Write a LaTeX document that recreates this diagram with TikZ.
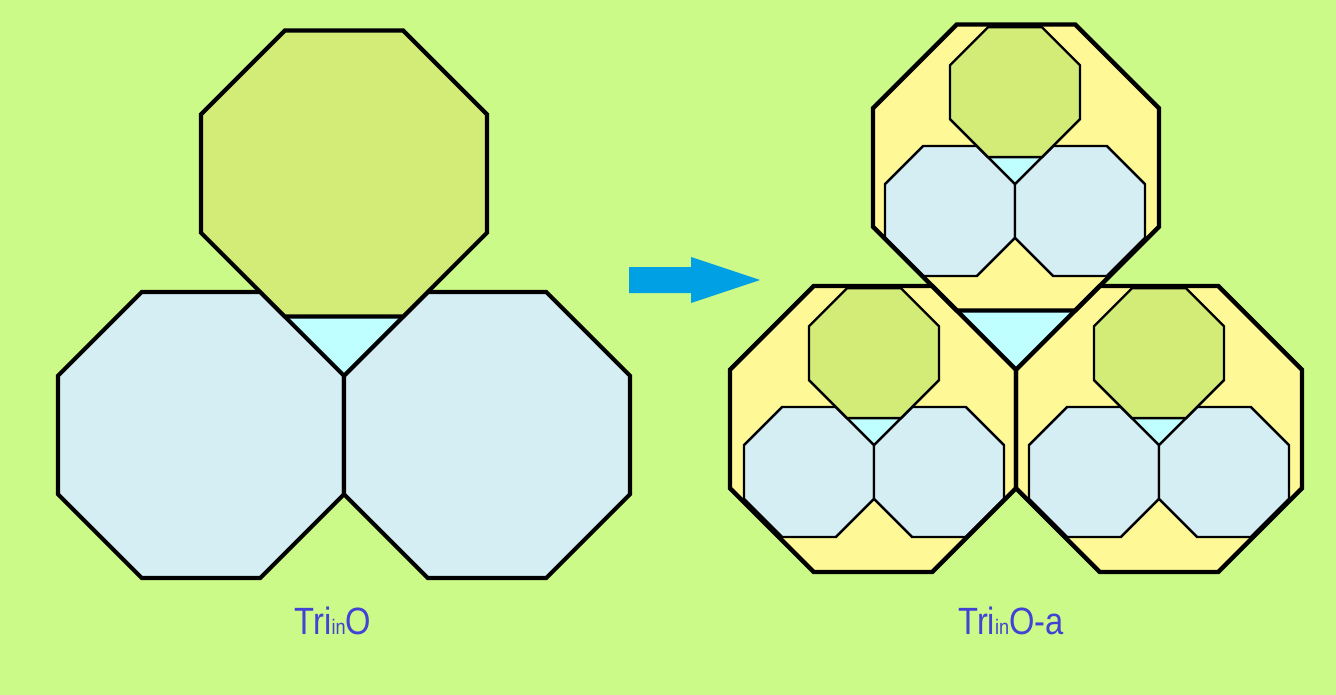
\documentclass[tikz,border=0pt]{standalone}
\usepackage{fontspec}
\newfontfamily\narrowsans[FakeStretch=0.86]{Liberation Sans}
\definecolor{bgc}{HTML}{CCFA88}
\definecolor{greenoct}{HTML}{D3EC78}
\definecolor{blueoct}{HTML}{D4EEF4}
\definecolor{cyantri}{HTML}{C0FFFF}
\definecolor{yellowoct}{HTML}{FFF896}
\definecolor{arrowc}{HTML}{00A0E4}
\definecolor{labelc}{HTML}{4242D4}
\tikzset{
  lbl/.style={text=labelc, font=\narrowsans\fontsize{38}{42}\selectfont, inner sep=0pt, anchor=base},
  octline/.style={draw=black, line join=miter},
}
\newcommand\octpath[3]{({#1},{#2}) +(22.5:{1.082392*#3}) -- +(67.5:{1.082392*#3}) -- +(112.5:{1.082392*#3}) -- +(157.5:{1.082392*#3}) -- +(202.5:{1.082392*#3}) -- +(247.5:{1.082392*#3}) -- +(292.5:{1.082392*#3}) -- +(337.5:{1.082392*#3}) -- cycle}
% trio: #1,#2 = point between the two lower octagons, #3 = apothem, #4 = line width
\newcommand\trio[4]{%
  \fill[cyantri] ({#1-0.4142*#3},{#2-0.8284*#3}) -- ({#1+0.4142*#3},{#2-0.8284*#3}) -- ({#1},{#2-0.4142*#3}) -- cycle;
  \filldraw[fill=blueoct, octline, line width=#4] \octpath{#1-#3}{#2}{#3};
  \filldraw[fill=blueoct, octline, line width=#4] \octpath{#1+#3}{#2}{#3};
  \filldraw[fill=greenoct, octline, line width=#4] \octpath{#1}{#2-1.8284*#3}{#3};
}
\begin{document}
\begin{tikzpicture}[x=1pt,y=-1pt]
\useasboundingbox (0,0) rectangle (1336,695);
\fill[bgc] (0,0) rectangle (1336,695);

% left figure
\trio{344}{435}{143}{4.2pt}

% arrow
\fill[arrowc] (629,267) -- (691,267) -- (691,257) -- (760,280) -- (691,303) -- (691,293) -- (629,293) -- cycle;

% right figure: big cyan gap
\fill[cyantri] ({1016-0.4142*143},{429-0.8284*143}) -- ({1016+0.4142*143},{429-0.8284*143}) -- (1016,{429-0.4142*143}) -- cycle;
% big yellow octagons
\fill[yellowoct] \octpath{873}{429}{143};
\fill[yellowoct] \octpath{1159}{429}{143};
\fill[yellowoct] \octpath{1016}{167.5}{143};
% small trios inside
\trio{1015}{211}{65}{2.4pt}
\trio{874}{472}{65}{2.4pt}
\trio{1159}{472}{65}{2.4pt}
% big outlines
\draw[octline, line width=4.3pt] \octpath{873}{429}{143};
\draw[octline, line width=4.3pt] \octpath{1159}{429}{143};
\draw[octline, line width=4.3pt] \octpath{1016}{167.5}{143};

% labels
\node[lbl] (left label) at (333,634) {Tri{\fontsize{21}{21}\selectfont in}O};
\node[lbl] (right label) at (1011,634) {Tri{\fontsize{21}{21}\selectfont in}O-a};
\end{tikzpicture}
\end{document}
